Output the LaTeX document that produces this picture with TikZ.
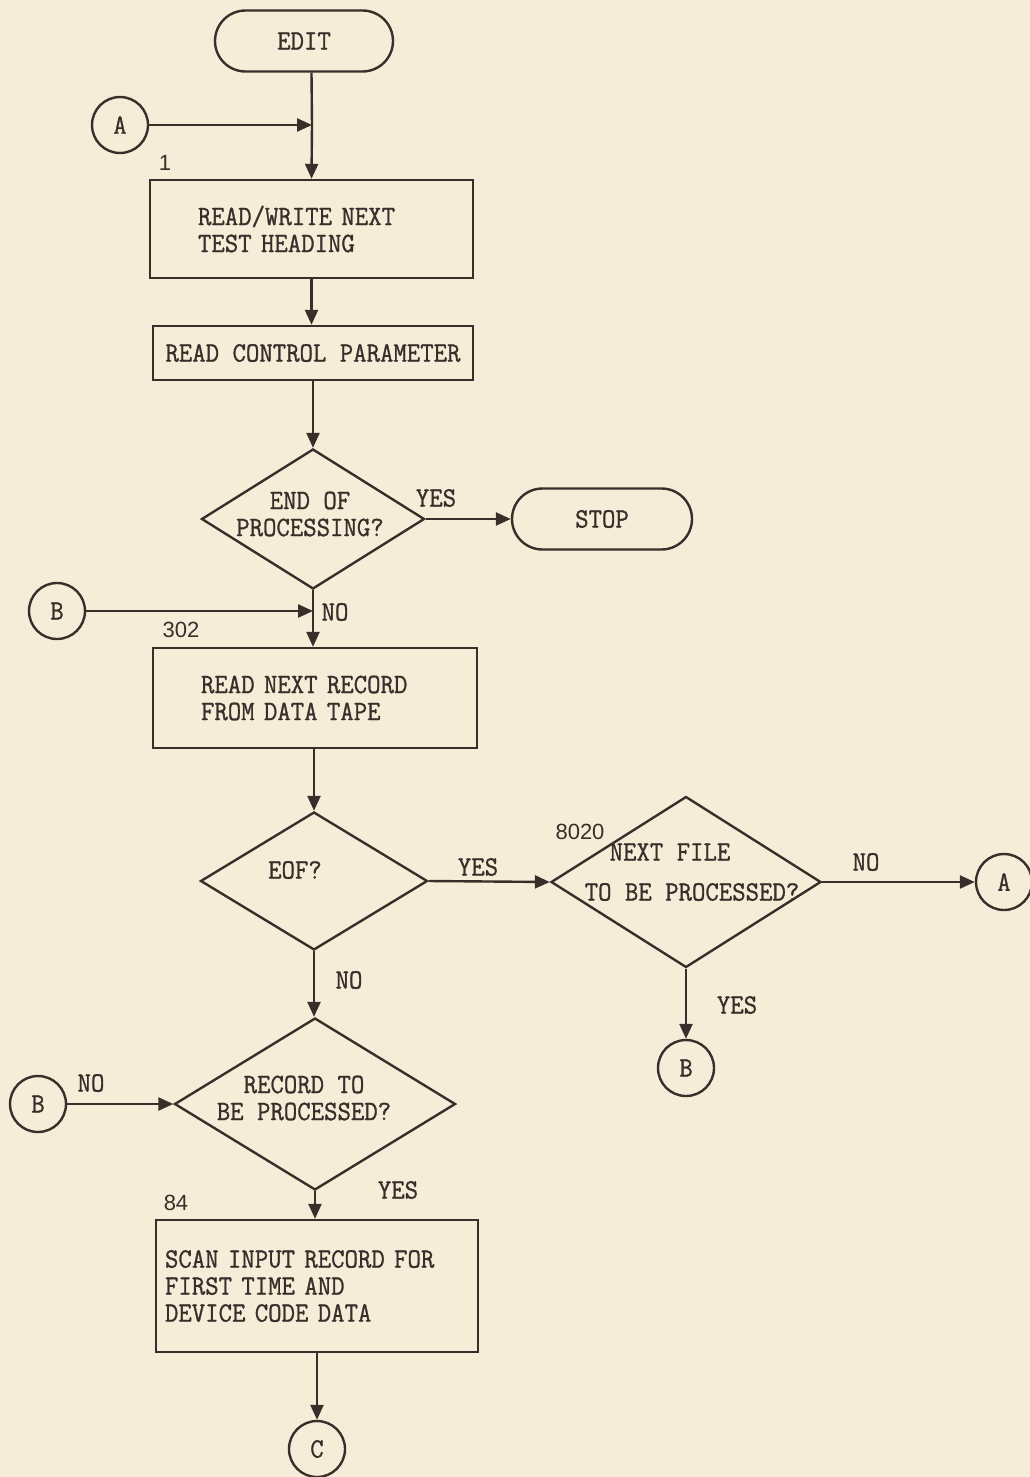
\documentclass[tikz,border=0pt]{standalone}
\usepackage{fontspec}
\newfontfamily\tw[FakeStretch=0.93,FakeBold=1]{Latin Modern Mono}
\newfontfamily\lbl{Liberation Sans}
\usetikzlibrary{shapes.geometric,shapes.misc,arrows.meta}
\definecolor{paper}{RGB}{246,237,217}
\definecolor{ink}{RGB}{58,46,42}
\begin{document}
\begin{tikzpicture}[x=1pt,y=-1pt,
  every node/.style={text=ink},
  line/.style={draw=ink,line width=2.4pt},
  arr/.style={line,-{Triangle[length=15pt,width=13pt]}},
  txt/.style={font=\tw\fontsize{28}{27}\selectfont},
  procbox/.style={line,rectangle,inner sep=0pt,txt},
  term/.style={line,rounded rectangle,minimum width=180pt,minimum height=61pt,inner sep=0pt,txt},
  conn/.style={line,circle,minimum size=56pt,inner sep=0pt,txt},
  decision/.style={line,diamond,inner sep=0pt},
  tag/.style={txt,inner sep=0pt},
  num/.style={font=\lbl\fontsize{22}{22}\selectfont,inner sep=0pt}]
\fill[paper] (0,0) rectangle (1030,1477);
\useasboundingbox (0,0) rectangle (1030,1477);

% start of the routine
\node[term,minimum width=178pt] (edit) at (304,41) {EDIT};
\node[conn] (ca1) at (120,125) {A};
\coordinate (ja) at (312,125);

\node[procbox,minimum width=323pt,minimum height=98pt,text width=227pt,align=left]
  (rw) at (311.5,229) {READ/WRITE NEXT\\TEST HEADING};
\node[num] (n1) at (165,163) {1};

\node[procbox,minimum width=320pt,minimum height=54pt,align=center]
  (ctl) at (313,353) {READ CONTROL PARAMETER};

\node[decision,minimum width=223pt,minimum height=140pt] (dend) at (313,519) {};
\node[tag,align=center] (dendt) at (310,514) {END OF\\PROCESSING?};
\node[tag] (yes1) at (436,498) {YES};
\node[term] (stop) at (602,519) {STOP};

\node[conn] (cb1) at (57,611) {B};
\coordinate (jb) at (313,611);
\node[tag] (no1) at (335,612) {NO};
\node[num] (n302) at (181,630) {302};

\node[procbox,minimum width=324pt,minimum height=100pt,text width=228pt,align=left]
  (rd) at (315,698) {READ NEXT RECORD\\FROM DATA TAPE};

\node[decision,minimum width=227pt,minimum height=138pt] (deof) at (314,881) {};
\node[tag] (deoft) at (295,870) {EOF?};
\node[tag] (yes2) at (478,867) {YES};

\node[decision,minimum width=270pt,minimum height=171pt] (dnext) at (686,882) {};
\node[num] (n8020) at (580,832) {8020};
\node[tag] (dnextt1) at (670,852) {NEXT FILE};
\node[tag] (dnextt2) at (692,892) {TO BE PROCESSED?};
\node[tag] (no2) at (866,862) {NO};
\node[conn] (ca2) at (1004,882) {A};
\node[tag] (yes3) at (737,1005) {YES};
\node[conn] (cb2) at (686,1068) {B};

\node[tag] (no3) at (349,980) {NO};
\node[decision,minimum width=281pt,minimum height=172pt] (drec) at (315,1104) {};
\node[tag,align=center] (drect) at (304,1098) {RECORD TO\\BE PROCESSED?};
\node[conn] (cb3) at (38,1104) {B};
\node[tag] (no4) at (91,1083) {NO};
\node[tag] (yes4) at (398,1190) {YES};
\node[num] (n84) at (176,1203) {84};

\node[procbox,minimum width=322pt,minimum height=132pt,text width=304pt,align=left]
  (scan) at (317,1286) {SCAN INPUT RECORD FOR\\FIRST TIME AND\\DEVICE CODE DATA};
\node[conn] (cc) at (317,1449) {C};

% flow lines
\draw[line] (edit.south -| rw.north) -- (ja);
\draw[arr] (ja) -- (rw.north);
\draw[arr] (ca1) -- (ja);
\draw[arr] (rw.south) -- (rw.south |- ctl.north);
\draw[arr] (ctl.south) -- (dend.north);
\draw[arr] (dend.east) -- (stop.west);
\draw[line] (dend.south) -- (jb);
\draw[arr] (jb) -- (jb |- rd.north);
\draw[arr] (cb1) -- (jb);
\draw[arr] (rd.south -| deof.north) -- (deof.north);
\draw[arr] (deof.east) -- (dnext.west);
\draw[arr] (dnext.east) -- (ca2.west);
\draw[arr] (dnext.south) -- (cb2.north);
\draw[arr] (deof.south) -- (deof.south |- drec.north);
\draw[arr] (cb3) -- (drec.west);
\draw[arr] (drec.south) -- (drec.south |- scan.north);
\draw[arr] (scan.south) -- (cc.north);
\end{tikzpicture}
\end{document}
